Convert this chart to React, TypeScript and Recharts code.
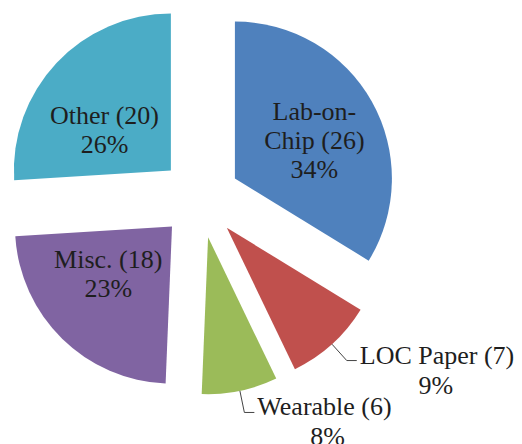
import React from 'react';
import { PieChart, Pie, Cell, Sector } from 'recharts';

// values (count of papers per category)
const categories = ['Lab-on-Chip', 'LOC Paper', 'Wearable', 'Misc.', 'Other'];
const counts = [26, 7, 6, 18, 20];
const colors = ['#4F81BD', '#C0504D', '#9BBB59', '#8064A2', '#4BACC6'];

const data = categories.map((name, i) => ({ name, value: counts[i] }));

const RAD = Math.PI / 180;
const EXPLODE = 40;
const FONT = 'Liberation Serif';
const FONT_SIZE = 26;
const LINE = 29;
const TEXT_COLOR = '#1e1e1e';

// rough width of a serif string, enough to centre the % under the title
const approxWidth = (s: string) => s.length * FONT_SIZE * 0.45;

const unit = (midAngle: number) => [Math.cos(-midAngle * RAD), Math.sin(-midAngle * RAD)];

const explodedCenter = (cx: number, cy: number, midAngle: number) => {
  const [c, s] = unit(midAngle);
  return [cx + EXPLODE * c, cy + EXPLODE * s];
};

// long titles are broken after the last hyphen, like the original
const wrap = (title: string) => {
  if (title.length <= 12) return [title];
  const cut = title.lastIndexOf('-', title.indexOf(' '));
  return cut > 0 ? [title.slice(0, cut + 1), title.slice(cut + 1)] : [title];
};

const Line = ({ x, y, children, anchor = 'middle' }: any) => (
  <text x={x} y={y} textAnchor={anchor} fontFamily={FONT} fontSize={FONT_SIZE} fill={TEXT_COLOR}>
    {children}
  </text>
);

const ExplodedSector = (props: any) => {
  const [x, y] = explodedCenter(props.cx, props.cy, props.midAngle);
  return <Sector {...props} cx={x} cy={y} stroke="none" />;
};

const renderLabel = (props: any) => {
  const { cx, cy, midAngle, outerRadius, percent, name, value, index } = props;
  const [ox, oy] = explodedCenter(cx, cy, midAngle);
  const [c, s] = unit(midAngle);
  const title = `${name} (${value})`;
  const pct = `${Math.round(percent * 100)}%`;

  if (percent >= 0.15) {
    const lx = ox + outerRadius * 0.58 * c;
    const ly = oy + outerRadius * 0.42 * s;
    const lines = [...wrap(title), pct];
    const top = ly - ((lines.length - 1) * LINE) / 2 + 9 + (s < -0.4 ? -6 : 0) + (c < 0 && s < 0 ? 10 : 0);
    return (
      <g key={`lbl-${index}`}>
        {lines.map((l, i) => (
          <Line key={i} x={lx} y={top + i * LINE}>
            {l}
          </Line>
        ))}
      </g>
    );
  }

  // small slices: label outside with an elbow leader line
  const x0 = ox + outerRadius * c;
  const y0 = oy + outerRadius * s;
  const x1 = x0 + 22 * c;
  const y1 = y0 + 22 * s;
  const x2 = x1 + 10;
  const tx = x2 + 3;
  const mid = tx + approxWidth(title) / 2;
  return (
    <g key={`lbl-${index}`}>
      <polyline
        points={`${x0},${y0} ${x1},${y1} ${x2},${y1}`}
        fill="none"
        stroke="#444"
        strokeWidth={1}
      />
      <Line x={tx} y={y1 + 3} anchor="start">
        {title}
      </Line>
      <Line x={mid} y={y1 + 3 + LINE + 1}>
        {pct}
      </Line>
    </g>
  );
};

export default function App() {
  return (
    <div style={{ position: 'absolute', left: 0, top: 0, background: '#fff', fontFamily: FONT }}>
      <PieChart width={522} height={444} margin={{ top: 0, right: 0, bottom: 0, left: 0 }}>
        <Pie
          data={data}
          dataKey="value"
          nameKey="name"
          cx={200}
          cy={198}
          outerRadius={157}
          startAngle={90}
          endAngle={-270}
          stroke="none"
          shape={ExplodedSector}
          label={renderLabel}
          labelLine={false}
          isAnimationActive={false}
        >
          {data.map((d, i) => (
            <Cell key={d.name} fill={colors[i]} />
          ))}
        </Pie>
      </PieChart>
    </div>
  );
}
